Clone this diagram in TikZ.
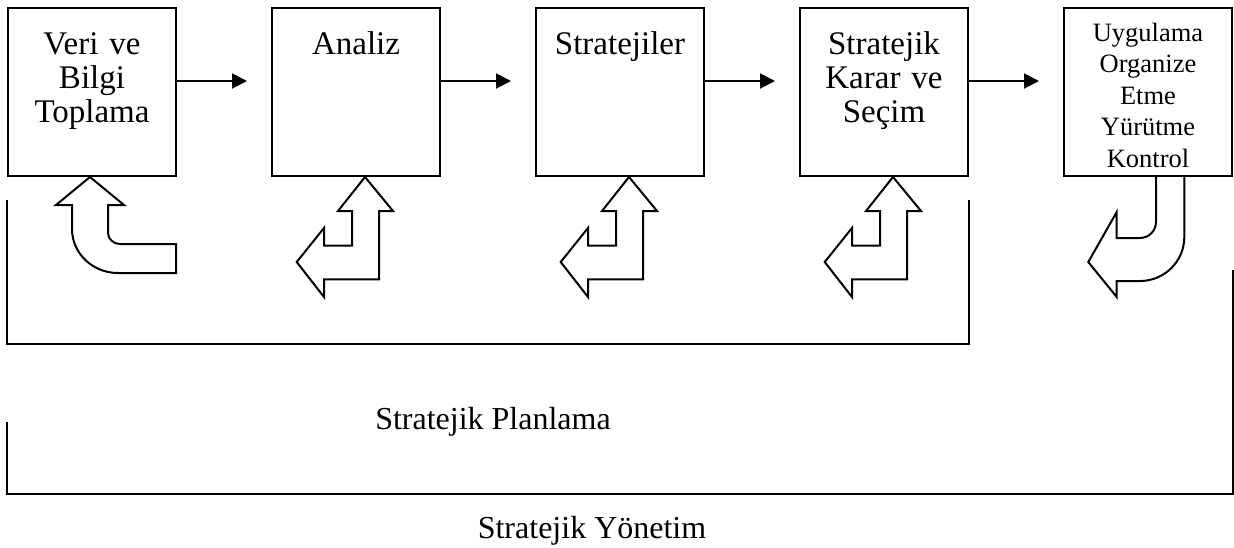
\documentclass[tikz,border=0pt]{standalone}
\usepackage{fontspec}
\setmainfont{Liberation Serif}
\usetikzlibrary{arrows.meta, positioning, calc}
\tikzset{
  stage/.style     = {draw, line width=2pt, minimum width=168pt, minimum height=168pt, inner sep=0pt},
  stagetext/.style = {text width=166pt, align=center, anchor=base, inner sep=0pt,
                      font=\fontsize{33}{34}\selectfont},
  smalltext/.style = {stagetext, font=\fontsize{26.5}{31.5}\selectfont},
  flow/.style      = {-{Triangle[length=15pt,width=15pt]}, line width=2pt, shorten >=24pt},
  blockarr/.style  = {draw, line width=2pt, fill=white, line join=miter},
  bracket/.style   = {line width=2.4pt},
  caption/.style   = {anchor=base, inner sep=0pt, font=\fontsize{32}{34}\selectfont},
  % turning arrows under the boxes
  uturn/.pic = {
    \draw[blockarr] (0,0) -- (34,-28) -- (18,-28) -- (18,-56)
      .. controls (18,-62) and (23.4,-67) .. (30,-67) -- (86,-67) -- (86,-96) -- (28,-96)
      .. controls (2.6,-96) and (-18,-76.3) .. (-18,-52) -- (-18,-28) -- (-34,-28) -- cycle;
  },
  elbow/.pic = {
    \draw[blockarr] (0,0) -- (28,-34) -- (14,-34) -- (14,-102.3) -- (-41,-102.3) -- (-41,-120)
      -- (-68.3,-85) -- (-41,-51) -- (-41,-68.6) -- (-13,-68.6) -- (-13,-34) -- (-27,-34) -- cycle;
  },
  hook/.pic = {
    \draw[blockarr] (8,0) -- (8,-45) .. controls (8,-53.8) and (0.8,-61) .. (-8,-61)
      -- (-31.3,-61) -- (-31.3,-35) -- (-59.7,-85) -- (-31.3,-120) -- (-31.3,-104) -- (-8,-104)
      .. controls (16.4,-104) and (36.3,-84.3) .. (36.3,-60) -- (36.3,0);
  },
}

\begin{document}
\begin{tikzpicture}[x=1pt, y=1pt]
  \useasboundingbox (0,0) rectangle (1234,-547);
  % stages
  \node[stage] (b1) at (92,-92) {};
  \node[stage, right=94pt of b1] (b2) {};
  \node[stage, right=94pt of b2] (b3) {};
  \node[stage, right=94pt of b3] (b4) {};
  \node[stage, right=94pt of b4] (b5) {};
  \node[stagetext] (t1) at ([yshift=-47pt]b1.north) {Veri ve\\Bilgi\\Toplama};
  \node[stagetext] (t2) at ([yshift=-47pt]b2.north) {Analiz};
  \node[stagetext] (t3) at ([yshift=-47pt]b3.north) {Stratejiler};
  \node[stagetext] (t4) at ([yshift=-47pt]b4.north) {Stratejik\\Karar ve\\Seçim};
  \node[smalltext] (t5) at ([yshift=-34pt]b5.north) {Uygulama\\Organize\\Etme\\Yürütme\\Kontrol};
  % flow between stages
  \foreach \a/\b in {b1/b2, b2/b3, b3/b4, b4/b5}
    \draw[flow] ([yshift=11pt]\a.east) -- ([yshift=11pt]\b.west);
  % feedback arrows
  \pic at ([xshift=-2pt]b1.south) {uturn};
  \foreach \b in {b2, b3, b4}
    \pic at ([xshift=9pt]\b.south) {elbow};
  \pic at (b5.south) {hook};
  % brackets
  \draw[bracket] (b1.west |- 0,-200) |- (b4.east |- 0,-344) -- (b4.east |- 0,-200);
  \draw[bracket] (b1.west |- 0,-422) |- (b5.east |- 0,-494) -- (b5.east |- 0,-270);
  \node[caption] (plan) at (493,-429) {Stratejik Planlama};
  \node[caption] (yon) at (592,-538) {Stratejik Yönetim};
\end{tikzpicture}
\end{document}
